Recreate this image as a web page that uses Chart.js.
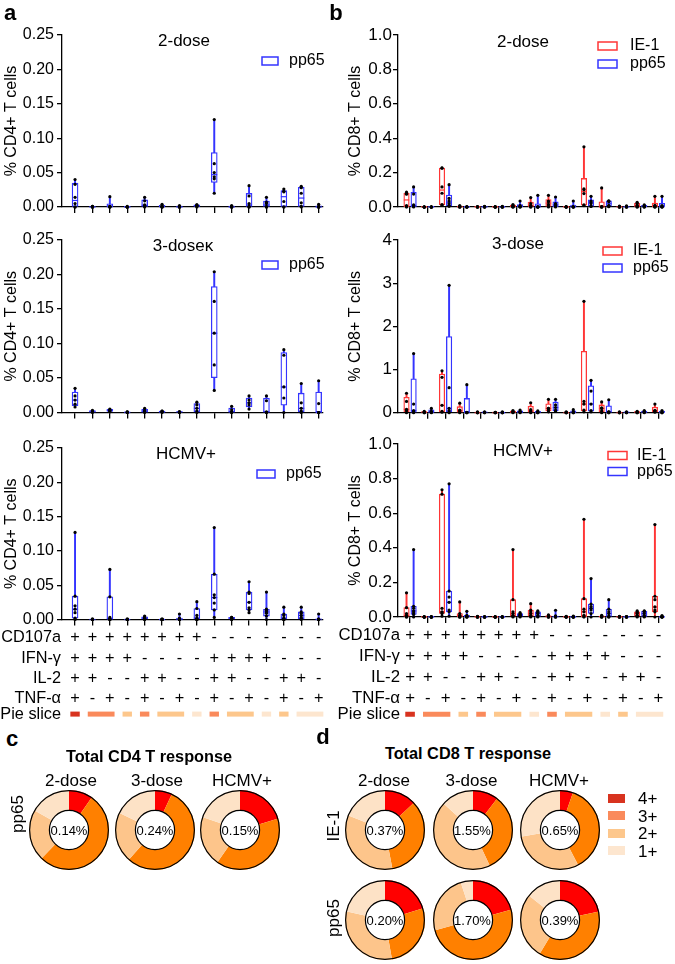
<!DOCTYPE html>
<html>
<head>
<meta charset="utf-8">
<script src="https://cdn.jsdelivr.net/npm/chart.js@4.4.1/dist/chart.umd.min.js"></script>
<style>
  body { margin: 0; background: #fff; }
  #fig { position: relative; width: 675px; height: 964px; overflow: hidden;
         font-family: "Liberation Sans", Arial, Helvetica, sans-serif; color: #000; }
  #fig canvas { position: absolute; }
  .t { position: absolute; white-space: nowrap; line-height: 1; }
  .sw { position: absolute; }
</style>
</head>
<body>
<div id="fig"></div>
<script>
// ---- categories: cytokine combination per column ----
const cd107a = ['+','+','+','+','+','+','+','+','-','-','-','-','-','-','-'];
const ifng   = ['+','+','+','+','-','-','-','-','+','+','+','+','-','-','-'];
const il2    = ['+','+','-','-','+','+','-','-','+','+','-','-','+','+','-'];
const tnfa   = ['+','-','+','-','+','-','+','-','+','-','+','-','+','-','+'];
const markerNames = ['CD107a', 'IFN-γ', 'IL-2', 'TNF-α'];

// ---- % CD4+ T cells, pp65 (one array of donor values per column) ----
const cd4Dose2 = [
  [0,0,0.005,0.014,0.033,0.040], [0,0,0,0,0.001,0.001], [0,0,0,0.001,0.001,0.015],
  [0,0,0,0,0,0.001], [0,0.001,0.002,0.003,0.009,0.014], [0,0,0,0.001,0.002,0.004],
  [0,0,0,0,0.001,0.002], [0,0.001,0.002,0.002,0.003,0.003], [0.020,0.041,0.044,0.050,0.063,0.127],
  [0,0,0,0,0.001,0.002], [0,0,0.001,0.005,0.016,0.031], [0,0,0.001,0.005,0.007,0.014],
  [0,0,0.008,0.022,0.023,0.026], [0,0.001,0.006,0.020,0.028,0.030], [0,0,0,0,0.001,0.004]
];
const cd4Dose3 = [
  [0.008,0.012,0.018,0.024,0.035], [0,0.001,0.002,0.002,0.003], [0.001,0.002,0.003,0.004,0.005],
  [0,0,0,0.001,0.001], [0,0.001,0.002,0.003,0.006], [0,0.001,0.001,0.002,0.002],
  [0,0,0.001,0.001,0.001], [0,0.002,0.006,0.011,0.015], [0.032,0.069,0.115,0.161,0.204],
  [0,0,0.001,0.004,0.009], [0.005,0.011,0.014,0.018,0.024], [0,0,0.001,0.017,0.024],
  [0,0.021,0.037,0.083,0.091], [0,0.002,0.006,0.014,0.042], [0,0,0,0.013,0.046]
];
const cd4Hcmv = [
  [0,0.002,0.010,0.015,0.020,0.034,0.127], [0,0,0,0,0,0,0.001], [0,0,0,0.001,0.003,0.033,0.073],
  [0,0,0,0,0,0,0.001], [0,0,0.001,0.002,0.003,0.004,0.005], [0,0,0,0,0,0,0.001],
  [0,0,0,0,0.001,0.002,0.008], [0,0,0,0.002,0.006,0.016,0.026], [0.003,0.014,0.024,0.032,0.036,0.066,0.134],
  [0,0,0.001,0.002,0.002,0.003,0.003], [0.010,0.014,0.017,0.025,0.038,0.040,0.055], [0,0.005,0.009,0.011,0.013,0.015,0.040],
  [0,0,0,0.002,0.006,0.008,0.018], [0,0.001,0.003,0.006,0.009,0.011,0.018], [0,0,0,0,0,0.001,0.008]
];

// ---- % CD8+ T cells, IE-1 and pp65 ----
const cd8Dose2IE1 = [
  [0,0.002,0.008,0.074,0.078,0.086], [0,0,0,0,0,0.001], [0.010,0.014,0.080,0.117,0.226,0.227],
  [0,0,0,0.002,0.004,0.008], [0,0,0,0,0.001,0.003], [0,0,0,0,0.001,0.002],
  [0,0,0.002,0.005,0.010,0.014], [0,0,0.005,0.010,0.020,0.055], [0,0.005,0.015,0.030,0.035,0.068],
  [0,0,0,0,0.001,0.002], [0.008,0.012,0.078,0.100,0.105,0.350], [0,0,0,0.001,0.003,0.111],
  [0,0,0,0.001,0.002,0.005], [0,0,0.003,0.010,0.020,0.027], [0,0,0.002,0.005,0.010,0.062]
];
const cd8Dose2Pp65 = [
  [0,0.003,0.006,0.012,0.075,0.117], [0,0,0,0,0,0.001], [0.004,0.008,0.020,0.035,0.050,0.130],
  [0,0,0,0,0.001,0.002], [0,0,0,0.001,0.002,0.004], [0,0,0,0,0.002,0.004],
  [0,0,0.002,0.005,0.008,0.035], [0,0,0,0,0.001,0.068], [0,0.003,0.010,0.015,0.020,0.058],
  [0,0,0,0.001,0.003,0.035], [0.003,0.005,0.020,0.030,0.035,0.062], [0.002,0.005,0.010,0.030,0.035,0.036],
  [0,0,0,0.001,0.003,0.006], [0,0,0.002,0.005,0.008,0.012], [0,0,0.001,0.003,0.008,0.062]
];
const cd8Dose3IE1 = [
  [0,0.05,0.08,0.26,0.45], [0,0,0.01,0.02,0.03], [0.01,0.03,0.17,0.82,0.97],
  [0,0.02,0.05,0.06,0.22], [0,0,0,0.01,0.02], [0,0,0,0.01,0.01],
  [0,0.01,0.02,0.03,0.05], [0,0.02,0.04,0.07,0.23], [0.02,0.06,0.10,0.10,0.31],
  [0,0,0,0.01,0.02], [0.02,0.06,0.20,0.26,2.58], [0,0.04,0.10,0.11,0.25],
  [0,0,0,0.01,0.02], [0,0,0.01,0.02,0.03], [0.01,0.03,0.05,0.05,0.20]
];
const cd8Dose3Pp65 = [
  [0,0.02,0.05,0.20,1.37], [0,0.01,0.02,0.03,0.10], [0,0.05,0.10,0.58,2.95],
  [0,0,0.005,0.01,0.65], [0,0,0.01,0.01,0.02], [0,0,0,0.01,0.02],
  [0,0.01,0.02,0.03,0.06], [0,0,0.01,0.02,0.04], [0.03,0.06,0.12,0.18,0.31],
  [0,0,0.01,0.02,0.07], [0.02,0.05,0.20,0.50,0.75], [0,0,0.02,0.02,0.30],
  [0,0,0.01,0.01,0.02], [0,0.01,0.02,0.03,0.05], [0,0,0.01,0.02,0.05]
];
const cd8HcmvIE1 = [
  [0,0,0.005,0.01,0.02,0.054,0.14], [0,0,0,0,0,0.001,0.002], [0.005,0.02,0.025,0.03,0.05,0.71,0.735],
  [0,0,0,0.005,0.01,0.02,0.087], [0,0,0,0,0.001,0.002,0.004], [0,0,0,0,0,0.001,0.002],
  [0,0.005,0.01,0.02,0.03,0.10,0.39], [0,0.005,0.01,0.02,0.03,0.04,0.077], [0,0,0,0.002,0.005,0.008,0.012],
  [0,0,0,0,0.001,0.002,0.004], [0,0.002,0.01,0.03,0.045,0.106,0.565], [0,0,0,0.002,0.004,0.006,0.01],
  [0,0,0,0,0.001,0.002,0.004], [0,0.005,0.01,0.02,0.025,0.03,0.035], [0,0.03,0.04,0.058,0.10,0.12,0.534]
];
const cd8HcmvPp65 = [
  [0,0.015,0.025,0.035,0.05,0.062,0.39], [0,0,0,0,0,0.001,0.002], [0.005,0.03,0.04,0.085,0.115,0.15,0.77],
  [0,0,0,0.003,0.005,0.01,0.033], [0,0,0,0,0,0.001,0.002], [0,0,0,0,0,0.001,0.002],
  [0,0.005,0.01,0.012,0.015,0.02,0.025], [0,0.003,0.01,0.02,0.025,0.03,0.035], [0,0,0,0.002,0.004,0.006,0.039],
  [0,0,0,0,0.001,0.002,0.005], [0,0.02,0.04,0.05,0.06,0.075,0.222], [0,0,0.005,0.02,0.03,0.045,0.10],
  [0,0,0,0,0.001,0.002,0.003], [0,0.003,0.01,0.02,0.03,0.033,0.035], [0,0,0,0,0.002,0.004,0.008]
];

// ---- pie charts (% of response per number of functions: 4+, 3+, 2+, 1+) ----
const pieGroups = ['4+', '3+', '2+', '1+'];
const cohorts = ['2-dose', '3-dose', 'HCMV+'];
const cd4Pp65Pies = [[9.7, 52.5, 21.0, 16.8], [7.0, 54.5, 20.6, 17.9], [20.4, 39.3, 20.6, 19.7]];
const cd4Pp65Totals = ['0.14%', '0.24%', '0.15%'];
const cd8IE1Pies = [[13.0, 34.0, 34.0, 19.0], [10.4, 32.6, 43.6, 13.4], [5.3, 37.1, 29.9, 27.7]];
const cd8IE1Totals = ['0.37%', '1.55%', '0.65%'];
const cd8Pp65Pies = [[20.3, 26.9, 31.3, 21.5], [20.8, 50.0, 24.2, 5.0], [21.6, 37.0, 27.0, 14.4]];
const cd8Pp65Totals = ['0.20%', '1.70%', '0.39%'];

const FONT = '"Liberation Sans", Arial, Helvetica, sans-serif';
const BLUE = '#3434ff', RED = '#ff3636';
const pieColors = ['#ff0000', '#ff8000', '#fdc58b', '#fde2c6'];
const sliceColors = ['#d8331f', '#fa8a5b', '#fdc78c', '#fde6cf'];

Chart.defaults.font.family = FONT;
Chart.defaults.color = '#000';

const fig = document.getElementById('fig');

function txt(s, x, y, size, extra) {
  const d = document.createElement('div');
  d.className = 't';
  d.textContent = s;
  d.style.left = x + 'px';
  d.style.top = y + 'px';
  d.style.fontSize = size + 'px';
  d.style.transform = 'translate(-50%,-50%)' + (extra || '');
  fig.appendChild(d);
  return d;
}

// Prism style quartiles
function quant(s, p) {
  const n = s.length, h = p * (n + 1);
  if (h <= 1) return s[0];
  if (h >= n) return s[n - 1];
  const lo = Math.floor(h);
  return s[lo - 1] + (h - lo) * (s[lo] - s[lo - 1]);
}
function stats(vals) {
  const s = [...vals].sort((a, b) => a - b);
  return { min: s[0], q1: quant(s, 0.25), med: quant(s, 0.5), q3: quant(s, 0.75), max: s[s.length - 1] };
}

function seriesSets(groups, color, off, bw) {
  const st = groups.map(stats);
  const xs = i => i + 1 + off;
  return [
    { type: 'bar', data: st.map((s, i) => ({ x: xs(i), y: [s.min, s.max] })), backgroundColor: color,
      borderWidth: 0, barThickness: 1.3, grouped: false, order: 3, clip: false },
    { type: 'bar', data: st.map((s, i) => ({ x: xs(i), y: [s.q1, s.q3] })), backgroundColor: '#fff',
      borderColor: color, borderWidth: 1.3, borderSkipped: false, barThickness: bw, grouped: false, order: 2, clip: false },
    { type: 'scatter', data: st.map((s, i) => ({ x: xs(i), y: s.med })), pointStyle: 'line', radius: bw / 2,
      borderColor: color, borderWidth: 1.2, order: 1, clip: false },
    { type: 'scatter', data: groups.flatMap((g, i) => g.map(v => ({ x: xs(i), y: v }))), pointStyle: 'circle',
      radius: 1.6, backgroundColor: '#000', borderWidth: 0, order: 0, clip: false }
  ];
}

// titles, legends, row labels and pie-slice key drawn on each box panel
const decor = {
  id: 'decor',
  afterDraw(chart, args, o) {
    const ctx = chart.ctx, a = chart.chartArea, xs = chart.scales.x;
    ctx.save();
    ctx.fillStyle = '#000';
    ctx.textBaseline = 'middle';
    ctx.textAlign = 'center';
    ctx.font = '17px ' + FONT;
    ctx.fillText(o.title, o.tx, o.ty);
    ctx.font = '16px ' + FONT;
    ctx.textAlign = 'left';
    o.series.forEach((s, k) => {
      const y = o.leg.y + k * o.leg.gap;
      ctx.strokeStyle = s.color;
      ctx.lineWidth = 1.5;
      ctx.strokeRect(o.leg.x, y - o.leg.h / 2, o.leg.w, o.leg.h);
      ctx.fillStyle = '#000';
      ctx.fillText(s.name, o.leg.tx, y);
    });
    if (o.table) {
      const lh = o.tableSize * 1.25;
      const y0 = a.bottom + 6 + 2 + lh / 2;
      ctx.font = o.tableSize + 'px ' + FONT;
      ctx.textAlign = 'right';
      markerNames.forEach((n, k) => ctx.fillText(n, o.rowX, y0 + k * lh));
      const pieY = y0 + 3.75 * lh;
      ctx.fillText('Pie slice', o.rowX, pieY);
      const deg = cd107a.map((_, i) => [cd107a[i], ifng[i], il2[i], tnfa[i]].filter(c => c === '+').length);
      let i = 0;
      while (i < deg.length) {
        let j = i;
        while (j + 1 < deg.length && deg[j + 1] === deg[i]) j++;
        const x0 = xs.getPixelForValue(i + 1 - 0.27), x1 = xs.getPixelForValue(j + 1 + 0.27);
        ctx.fillStyle = sliceColors[4 - deg[i]];
        ctx.fillRect(x0, pieY - 2.5, x1 - x0, 5);
        i = j + 1;
      }
    }
    ctx.restore();
  }
};

function boxPanel(p) {
  const cv = document.createElement('canvas');
  cv.width = p.w; cv.height = p.h;
  cv.style.left = p.left + 'px'; cv.style.top = p.top + 'px';
  fig.appendChild(cv);
  const A = { l: p.area.l - p.left, r: p.area.r - p.left, t: p.area.t - p.top, b: p.area.b - p.top };
  const datasets = p.series.flatMap(s => seriesSets(s.data, s.color, s.off, p.bw));
  const rows = [cd107a, ifng, il2, tnfa];
  new Chart(cv, {
    type: 'bar',
    data: { datasets },
    options: {
      responsive: false, animation: false, events: [],
      layout: { padding: { top: A.t, right: p.w - A.r, left: 0, bottom: 0 } },
      plugins: {
        legend: { display: false }, tooltip: { enabled: false },
        decor: {
          title: p.title, tx: p.tx - p.left, ty: p.ty - p.top, series: p.series,
          leg: { x: p.leg.x - p.left, y: p.leg.y - p.top, w: p.leg.w, h: p.leg.h, gap: p.leg.gap, tx: p.leg.tx - p.left },
          table: p.table, tableSize: p.tableSize, rowX: p.rowX - p.left
        }
      },
      scales: {
        x: {
          type: 'linear', min: p.xmin, max: p.xmax, offset: false,
          grid: { display: true, drawOnChartArea: false, drawTicks: true, tickLength: 6, color: '#000', lineWidth: 1.3, offset: false },
          border: { display: true, color: '#000', width: 1.3 },
          afterBuildTicks: s => { s.ticks = cd107a.map((_, i) => ({ value: i + 1 })); },
          ticks: {
            autoSkip: false, maxRotation: 0, minRotation: 0, padding: 2,
            font: { size: p.tableSize, lineHeight: 1.25 },
            callback: v => p.table ? rows.map(r => r[Math.round(v) - 1]) : ''
          },
          afterFit: s => { s.height = p.h - A.b; s.paddingLeft = 0; s.paddingRight = 0; }
        },
        y: {
          min: 0, max: p.ymax,
          grid: { display: true, drawOnChartArea: false, drawTicks: true, tickLength: 5, color: '#000', lineWidth: 1.3 },
          border: { display: true, color: '#000', width: 1.3 },
          ticks: { stepSize: p.step, padding: p.tickPad, font: { size: p.yFont }, callback: v => v.toFixed(p.dec) },
          title: { display: true, text: p.yTitle, font: { size: 16 }, padding: { top: p.titlePad, bottom: 0 } },
          afterFit: s => { s.width = A.l; s.paddingTop = 0; s.paddingBottom = 0; }
        }
      }
    },
    plugins: [decor]
  });
}

const cd4Common = { left: 0, w: 335, xmin: 0.25, xmax: 15.25, ymax: 0.25, step: 0.05, dec: 2, yFont: 16,
  yTitle: '% CD4+ T cells', titlePad: 2, tickPad: 3, bw: 6, tableSize: 16.3, rowX: 61 };
const cd8Common = { left: 335, w: 340, xmin: 0.32, xmax: 15.2, yFont: 17,
  yTitle: '% CD8+ T cells', titlePad: 10.5, tickPad: 1, bw: 5.5, tableSize: 16.8, rowX: 400 };

boxPanel(Object.assign({}, cd4Common, { top: 0, h: 225, area: { l: 62, r: 323, t: 35, b: 207 },
  title: '2-dose', tx: 184, ty: 41, series: [{ name: 'pp65', color: BLUE, off: 0, data: cd4Dose2 }],
  leg: { x: 262, y: 61, w: 16, h: 8, gap: 18, tx: 289 } }));
boxPanel(Object.assign({}, cd4Common, { top: 225, h: 200, area: { l: 62, r: 323, t: 240, b: 412.5 },
  title: '3-doseκ', tx: 183, ty: 246, series: [{ name: 'pp65', color: BLUE, off: 0, data: cd4Dose3 }],
  leg: { x: 262, y: 265, w: 16, h: 8, gap: 18, tx: 289 } }));
boxPanel(Object.assign({}, cd4Common, { top: 425, h: 300, area: { l: 62, r: 323, t: 448, b: 619.5 },
  title: 'HCMV+', tx: 186, ty: 454, series: [{ name: 'pp65', color: BLUE, off: 0, data: cd4Hcmv }],
  leg: { x: 257, y: 474, w: 18, h: 8, gap: 18, tx: 286 }, table: true }));

boxPanel(Object.assign({}, cd8Common, { top: 0, h: 225, area: { l: 398, r: 662, t: 35, b: 207 },
  ymax: 1, step: 0.2, dec: 1, title: '2-dose', tx: 523, ty: 42,
  series: [{ name: 'IE-1', color: RED, off: -0.2, data: cd8Dose2IE1 }, { name: 'pp65', color: BLUE, off: 0.2, data: cd8Dose2Pp65 }],
  leg: { x: 598, y: 46, w: 19, h: 8, gap: 18, tx: 630 } }));
boxPanel(Object.assign({}, cd8Common, { top: 225, h: 200, area: { l: 398, r: 662, t: 240, b: 412.7 },
  ymax: 4, step: 1, dec: 0, title: '3-dose', tx: 518, ty: 244,
  series: [{ name: 'IE-1', color: RED, off: -0.2, data: cd8Dose3IE1 }, { name: 'pp65', color: BLUE, off: 0.2, data: cd8Dose3Pp65 }],
  leg: { x: 603, y: 251, w: 19, h: 8, gap: 17, tx: 633 } }));
boxPanel(Object.assign({}, cd8Common, { top: 425, h: 300, area: { l: 398, r: 662, t: 444, b: 617 },
  ymax: 1, step: 0.2, dec: 1, title: 'HCMV+', tx: 523, ty: 451,
  series: [{ name: 'IE-1', color: RED, off: -0.2, data: cd8HcmvIE1 }, { name: 'pp65', color: BLUE, off: 0.2, data: cd8HcmvPp65 }],
  leg: { x: 608, y: 455.5, w: 19, h: 8, gap: 16, tx: 637 }, table: true }));

// ---- donuts ----
const ring = {
  id: 'ring',
  afterDraw(chart) {
    const arc = chart.getDatasetMeta(0).data[0];
    if (!arc) return;
    const ctx = chart.ctx;
    ctx.save();
    ctx.strokeStyle = '#000';
    ctx.lineWidth = 1.2;
    ctx.beginPath(); ctx.arc(arc.x, arc.y, arc.outerRadius - 0.6, 0, Math.PI * 2); ctx.stroke();
    ctx.beginPath(); ctx.arc(arc.x, arc.y, arc.innerRadius, 0, Math.PI * 2); ctx.stroke();
    ctx.restore();
  }
};

function donut(vals, cx, cy, r, total) {
  const cv = document.createElement('canvas');
  const s = Math.round(2 * r);
  cv.width = s; cv.height = s;
  cv.style.left = (cx - s / 2) + 'px'; cv.style.top = (cy - s / 2) + 'px';
  fig.appendChild(cv);
  new Chart(cv, {
    type: 'doughnut',
    data: { labels: pieGroups, datasets: [{ data: vals, backgroundColor: pieColors, borderWidth: 0, hoverOffset: 0 }] },
    options: {
      responsive: false, animation: false, events: [], cutout: '49%',
      layout: { padding: 0 },
      plugins: { legend: { display: false }, tooltip: { enabled: false } }
    },
    plugins: [ring]
  });
  txt(total, cx, cy, 13);
}

// panel letters
const pl = (s, x, y) => { const d = txt(s, x, y, 22); d.style.fontWeight = 'bold'; };
pl('a', 10, 13); pl('b', 336, 13); pl('c', 12, 739); pl('d', 323, 737);

// c: CD4
const t1 = txt('Total CD4 T response', 149, 756, 16.3); t1.style.fontWeight = 'bold';
const cd4X = [69, 155, 240];
cohorts.forEach((c, i) => {
  txt(c, cd4X[i] + 2, 780, 17);
  donut(cd4Pp65Pies[i], cd4X[i], 830, 40, cd4Pp65Totals[i]);
});
txt('pp65', 17, 814, 17, ' rotate(-90deg)');

// d: CD8
const t2 = txt('Total CD8 T response', 468, 753, 16.3); t2.style.fontWeight = 'bold';
const cd8X = [385, 472.5, 560];
cohorts.forEach((c, i) => {
  txt(c, cd8X[i] - 1, 780, 17);
  donut(cd8IE1Pies[i], cd8X[i], 830, 40, cd8IE1Totals[i]);
  donut(cd8Pp65Pies[i], cd8X[i], 920, 40, cd8Pp65Totals[i]);
});
txt('IE-1', 333, 826, 17, ' rotate(-90deg)');
txt('pp65', 333, 918, 17, ' rotate(-90deg)');

// legend of pie groups
pieGroups.forEach((g, k) => {
  const y = 798 + k * 17.6;
  const b = document.createElement('div');
  b.className = 'sw';
  b.style.cssText = `left:608px;top:${y - 4.5}px;width:17px;height:9px;background:${sliceColors[k]}`;
  fig.appendChild(b);
  const d = txt(g, 638, y, 17);
  d.style.transform = 'translate(0,-50%)';
});
</script>
</body>
</html>
